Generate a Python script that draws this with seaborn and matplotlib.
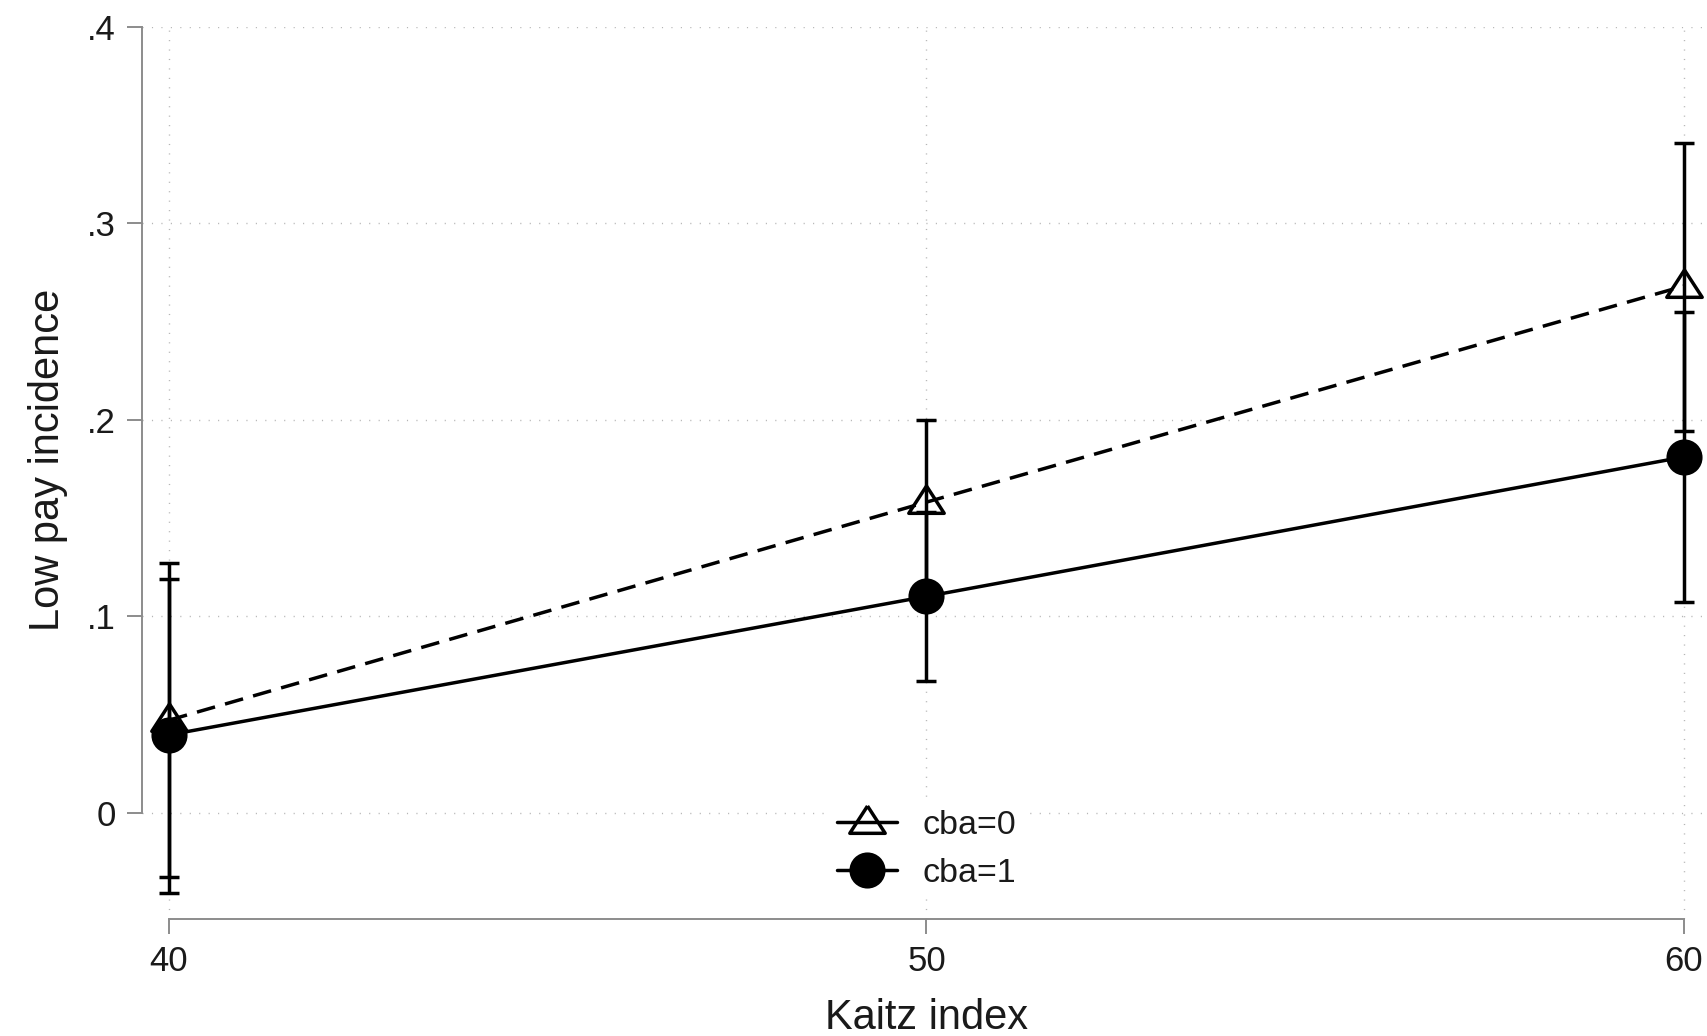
import numpy as np
import pandas as pd
import matplotlib
matplotlib.use("Agg")
import matplotlib.pyplot as plt
from matplotlib.lines import Line2D
import seaborn as sns

# ---- data ----
kaitz = [40, 50, 60]
groups = ["cba=0", "cba=1"]
cba0_mean = [0.047, 0.158, 0.268]
cba0_lo = [-0.033, 0.116, 0.194]
cba0_hi = [0.127, 0.200, 0.341]
cba1_mean = [0.0395, 0.110, 0.181]
cba1_lo = [-0.041, 0.067, 0.107]
cba1_hi = [0.119, 0.153, 0.255]
ytick_vals = [0, 0.1, 0.2, 0.3, 0.4]
ytick_labels = ["0", ".1", ".2", ".3", ".4"]
xtick_vals = [40, 50, 60]
xtick_labels = ["40", "50", "60"]

df = pd.DataFrame({
    "kaitz": kaitz * 2,
    "lowpay": cba0_mean + cba1_mean,
    "lo": cba0_lo + cba1_lo,
    "hi": cba0_hi + cba1_hi,
    "group": [groups[0]] * 3 + [groups[1]] * 3,
})

sns.set_theme(style="white")
plt.rcParams["font.family"] = ["Liberation Sans", "DejaVu Sans"]

W, H = 1707, 1036
fig = plt.figure(figsize=(W / 100, H / 100), dpi=100)
fig.patch.set_facecolor("white")
ax = fig.add_axes([142 / W, 1 - 919 / H, 1565 / W, (919 - 26.7) / H])

# triangle marker (centroid-like centre)
tri = np.array([[0, 16.3], [-17.5, -10.7], [17.5, -10.7], [0, 16.3]])

LW = 2.5
styles = {
    groups[0]: dict(marker=tri, markersize=25.5, markerfacecolor="none",
                    linestyle=(0, (5.4, 3.0))),
    groups[1]: dict(marker="o", markersize=23.5, markerfacecolor="black",
                    linestyle="-"),
}

for g in groups:
    sub = df[df["group"] == g]
    ax.errorbar(sub["kaitz"], sub["lowpay"],
                yerr=[sub["lowpay"] - sub["lo"], sub["hi"] - sub["lowpay"]],
                fmt="none", ecolor="black", elinewidth=LW, capsize=7,
                capthick=LW, zorder=2, clip_on=False)

for g in groups:
    sub = df[df["group"] == g]
    st = styles[g]
    sns.lineplot(data=sub, x="kaitz", y="lowpay", ax=ax, color="black",
                 linewidth=LW, marker=st["marker"], markersize=st["markersize"],
                 markerfacecolor=st["markerfacecolor"], markeredgecolor="black",
                 markeredgewidth=LW, linestyle=st["linestyle"],
                 errorbar=None, legend=False, zorder=3, clip_on=False)

ax.set_xlim(39.644, 60.304)
ax.set_ylim(-0.0542, 0.4)

ax.set_xticks(xtick_vals)
ax.set_xticklabels(xtick_labels)
ax.set_yticks(ytick_vals)
ax.set_yticklabels(ytick_labels)

axis_gray = "#8c8c8c"
for s in ["top", "right"]:
    ax.spines[s].set_visible(False)
for s in ["left", "bottom"]:
    ax.spines[s].set_color(axis_gray)
    ax.spines[s].set_linewidth(1.4)
ax.spines["left"].set_bounds(0, 0.4)
ax.spines["bottom"].set_bounds(40, 60)

ax.tick_params(axis="both", direction="out", length=10.8, width=1.4,
               color=axis_gray, labelcolor="#1a1a1a", bottom=True, left=True)
ax.tick_params(axis="y", labelsize=25, pad=8)
ax.tick_params(axis="x", labelsize=25, pad=8)

ax.grid(True, linestyle=(0, (0.8, 6)), color="#b5b5b5", linewidth=1.0)
ax.set_axisbelow(True)

ax.set_xlabel("Kaitz index", fontsize=30, color="#1a1a1a")
ax.set_ylabel("Low pay incidence", fontsize=30, color="#1a1a1a")
ax.xaxis.set_label_coords(0.5016, -0.088)
ax.yaxis.set_label_coords(-0.047, 0.514)

handles = [
    Line2D([], [], color="black", lw=LW, marker=tri, markersize=25.5,
           markerfacecolor="none", markeredgecolor="black", markeredgewidth=LW),
    Line2D([], [], color="black", lw=LW, marker="o", markersize=23.5,
           markerfacecolor="black", markeredgecolor="black", markeredgewidth=LW),
]
leg = ax.legend(handles, groups, loc="upper left",
                bbox_to_anchor=(0.4377, 0.134), bbox_transform=ax.transAxes,
                borderaxespad=0, borderpad=0.3, fontsize=24.5, handlelength=1.76,
                handletextpad=0.74, labelspacing=0.5, frameon=True)
leg.get_frame().set_facecolor("white")
leg.get_frame().set_edgecolor("none")
leg.get_frame().set_alpha(1)
for t in leg.get_texts():
    t.set_color("#1a1a1a")

fig.savefig("out.png", dpi=100, facecolor="white")
